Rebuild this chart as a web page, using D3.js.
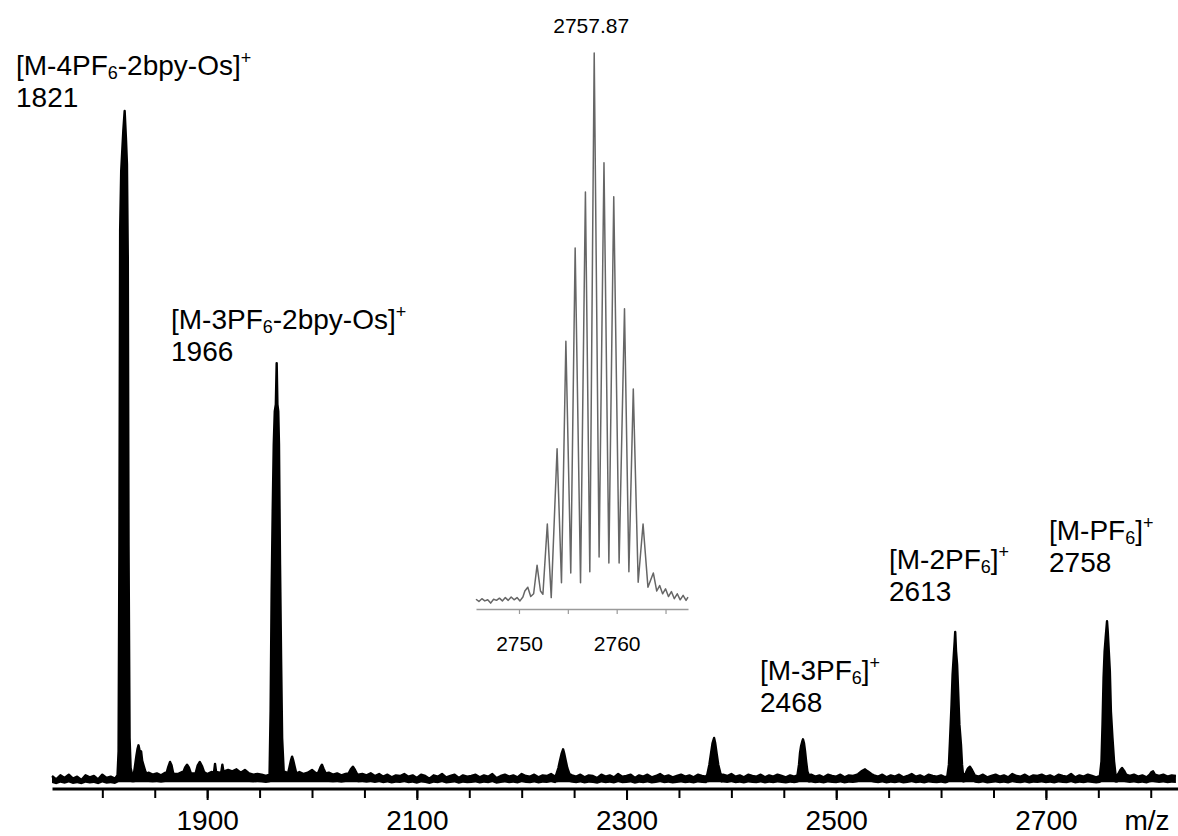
<!DOCTYPE html>
<meta charset="utf-8">

<!-- Load d3.js -->
<script src="https://d3js.org/d3.v7.min.js"></script>

<style>
  body { margin: 0; background: #fff; }
  text { font-family: "Liberation Sans", Arial, sans-serif; fill: #000; }
</style>

<div id="my_dataviz"></div>

<script>

// ---- spectrum data (intensity in % of the 1821 peak) ----

// baseline noise, one row per 100 m/z, one value every 4 m/z, in tenths of %
var noiseStart = 1752
var noiseStep = 4
var noiseRows = [
  [3,-2,4,0,5,-1,2,-3,4,1,3,-2,5,0,2,-1,0,0,0,0,0,0,0,8,5],          // 1752-1848
  [7,4,8,0,6,6,9,0,0,7,0,0,6,9,0,8,10,12,10,13,8,12,7,5,6],          // 1852-1948
  [5,3,0,0,0,0,8,0,0,9,6,8,12,7,0,0,8,5,7,4,6,0,0,5,6],              // 1952-2048
  [4,7,3,6,2,5,1,4,3,6,2,4,0,5,3,-1,4,2,6,1,3,5,0,4,2],              // 2052-2148
  [3,5,1,4,2,6,0,3,5,2,4,1,6,3,2,5,1,4,3,6,2,0,0,0,4],               // 2152-2248
  [2,5,1,4,3,0,5,2,4,1,6,2,3,5,0,4,2,5,1,3,6,2,4,1,3],               // 2252-2348
  [5,2,4,1,5,3,2,0,0,0,5,3,6,2,4,1,5,3,2,5,1,4,2,5,3],               // 2352-2448
  [1,4,2,0,0,0,5,2,4,1,5,3,2,5,1,4,3,5,0,0,0,4,2,5,1],               // 2452-2548
  [4,2,5,1,3,6,2,4,1,5,3,2,4,1,0,0,0,0,0,0,4,2,5,1,3],               // 2552-2648
  [5,2,4,1,6,3,2,5,1,4,3,5,2,4,1,5,3,2,6,1,4,2,5,3,1],               // 2652-2748
  [0,0,0,0,4,0,0,3,5,2,4,1,0,0,3,5,2,4,3]                            // 2752-2824
]

// peak profiles [m/z, intensity %]
var peakProfiles = [
  [[1814.5,0.4],[1815.5,4],[1816.3,35],[1817,82],[1818,91],[1819,94],[1820,97],[1821.3,100],[1822.5,96],[1823.5,92],[1824.3,78],[1825,35],[1826,6],[1827,1.5],[1828.5,0.5]],
  [[1830,0.5],[1831.5,2.2],[1832.5,3.3],[1833.5,4.3],[1834.5,4.9],[1835.3,4.3],[1836,3.6],[1837,4.0],[1838,2.6],[1839.5,1.8],[1841,1.0],[1842.5,0.6]],
  [[1861,0.6],[1863,1.7],[1864.6,2.4],[1866,1.9],[1867.5,0.8]],
  [[1877,0.8],[1879,1.6],[1880.8,2.0],[1882.5,1.6],[1884.5,0.7]],
  [[1889,0.7],[1891,1.9],[1893,2.4],[1895,1.8],[1897,0.9]],
  [[1906.5,0.8],[1907.5,2.1],[1908.5,0.9]],
  [[1913.5,0.9],[1914.5,2.0],[1915.5,1.0]],
  [[1959.5,0.5],[1960.5,10],[1961.5,28],[1962.5,40],[1963.5,50],[1964.5,55],[1965.5,56],[1966.3,62.2],[1967,56],[1967.8,55],[1968.5,50],[1969.5,32],[1970.5,18],[1971.5,6],[1973,1]],
  [[1977,0.6],[1978.5,1.6],[1980,2.7],[1981,3.2],[1982,2.7],[1983.5,1.7],[1985,0.7]],
  [[2006,0.8],[2008,1.6],[2009.5,2.0],[2011,1.4],[2013,0.7]],
  [[2035,0.7],[2037,1.3],[2039,1.7],[2041,1.2],[2043,0.6]],
  [[2233,0.5],[2235,1.5],[2236.5,2.6],[2238,3.6],[2239.5,4.3],[2240.5,3.7],[2242,2.6],[2243.5,1.5],[2245.5,0.6]],
  [[2377,0.5],[2379,2],[2380.5,3.6],[2382,5.2],[2383.5,6.0],[2384.5,5.3],[2386,3.6],[2387.5,2],[2389.5,0.7],[2390.5,0.4]],
  [[2463,0.4],[2464.5,2],[2465.5,3.8],[2466.5,4.8],[2467.5,5.4],[2468.3,5.8],[2469.3,5.2],[2470.3,4],[2471.3,2.5],[2472.5,1],[2474,0.4]],
  [[2521,0.6],[2524,1.0],[2527.5,1.3],[2530,1.0],[2533.5,0.6]],
  [[2606,0.3],[2607.5,2],[2608.5,5.5],[2610,11],[2611,15.5],[2612,18],[2613,20.5],[2613.5,21.9],[2614.3,19],[2615.3,17],[2616.3,13],[2617.5,8],[2619,5],[2620,2],[2621,0.4]],
  [[2623.5,0.7],[2625.5,1.4],[2627.5,1.7],[2629.5,1.2],[2631.5,0.6]],
  [[2751.5,0.3],[2753,2.5],[2754,8],[2755,15],[2756,19],[2757,21],[2758.3,23.5],[2759,22],[2760,19],[2761,16],[2762,10],[2763.5,6],[2765,2.5],[2766.5,0.4]],
  [[2769,0.6],[2771,1.2],[2772.6,1.5],[2774.5,1.1],[2776.5,0.5]],
  [[2799,0.5],[2800.8,0.9],[2802.2,1.0],[2804,0.5]]
]

// annotated ions
var ionMass = [1821, 1966, 2468, 2613, 2758]
var ionHead = ["[M-4PF", "[M-3PF", "[M-3PF", "[M-2PF", "[M-PF"]
var ionSub = ["6", "6", "6", "6", "6"]
var ionTail = ["-2bpy-Os]", "-2bpy-Os]", "]", "]", "]"]

// axis ticks
var minorTicks = d3.range(1800, 2801, 50)
var majorTicks = [1900, 2100, 2300, 2500, 2700]

// inset: isotope pattern of [M-PF6]+
var insetApex = "2757.87"
var insetMz = [2745.6,2745.9,2746.2,2746.5,2746.8,2747.1,2747.4,2747.7,2748.0,2748.3,2748.6,2748.9,2749.2,2749.5,2749.8,2750.1,2750.4,
  2750.6,2750.9,2751.2,2751.5,2751.85,2752.2,2752.45,2752.9,2753.3,2753.9,2754.35,2754.8,2755.3,2755.75,2756.3,2756.8,2757.25,2757.7,
  2758.2,2758.7,2759.2,2759.7,2760.25,2760.8,2761.25,2761.7,2762.2,2762.7,2763.2,2763.75,2764.1,2764.4,2764.7,2765.0,2765.3,2765.6,
  2765.9,2766.2,2766.5,2766.8,2767.1,2767.3]
var insetInt = [0.5,0.1,0.6,0.2,0.4,-0.2,0.5,0.3,0.7,0.2,0.8,0.3,0.9,0.4,0.8,0.2,0.9,
  2.0,2.7,1.0,1.5,6.7,2.0,1.4,14.2,0.8,27.9,3.5,47.5,5.3,64.5,3.5,74.7,5.5,100,
  8.2,80,7.1,73.8,7.1,53.4,5.5,38.8,3.6,14.2,2.7,5.3,2.0,3.0,1.5,2.4,1.0,1.9,
  0.6,1.5,0.4,1.2,0.3,0.9]
var insetTicks = [2750, 2755, 2760, 2765]
var insetTickLabels = [2750, 2760]

// ---- layout ----
var width = 1178, height = 836
var axisY = 788.5
// label anchors: [x, baseline of ion formula]
var labelPos = [[16, 75], [171, 329], [760, 680], [889, 569], [1049, 540]]

var svg = d3.select("#my_dataviz")
  .append("svg")
    .attr("width", width)
    .attr("height", height)

var x = d3.scaleLinear().domain([1752, 2826]).range([52, 1178])
var y = d3.scaleLinear().domain([0, 100]).range([778, 111])

// merge noise and peaks into one trace
var spans = peakProfiles.map(function(p){ return [p[0][0], p[p.length-1][0]] })
var trace = []
noiseRows.forEach(function(row, r) {
  row.forEach(function(v, j) {
    var mz = noiseStart + r * 100 + j * noiseStep
    var inside = spans.some(function(s){ return mz >= s[0] && mz <= s[1] })
    if (!inside) trace.push([mz, v / 10])
  })
})
peakProfiles.forEach(function(p){ p.forEach(function(d){ trace.push(d) }) })
trace.sort(function(a, b){ return a[0] - b[0] })

// filled trace: the noise band keeps a jagged lower edge, peaks are solid
svg.append("path")
  .datum(trace)
  .attr("fill", "#000")
  .attr("d", d3.area()
    .x(function(d){ return x(d[0]) })
    .y0(function(d){ return y(0.35 * Math.min(d[1], 0.6) - 0.85) })
    .y1(function(d){ return y(d[1]) }))

svg.append("path")
  .datum(trace)
  .attr("fill", "none")
  .attr("stroke", "#000")
  .attr("stroke-width", 2.4)
  .attr("stroke-linejoin", "round")
  .attr("d", d3.line()
    .x(function(d){ return x(d[0]) })
    .y(function(d){ return y(d[1]) }))

// main x axis
var gMinor = svg.append("g")
  .attr("transform", "translate(0," + axisY + ")")
  .call(d3.axisBottom(x).tickValues(minorTicks).tickSize(9.5).tickSizeOuter(0).tickFormat(""))
gMinor.select(".domain").attr("stroke-width", 3)
gMinor.selectAll(".tick line").attr("stroke-width", 2)

var gMajor = svg.append("g")
  .attr("transform", "translate(0," + axisY + ")")
  .call(d3.axisBottom(x).tickValues(majorTicks).tickSize(11.5).tickSizeOuter(0).tickFormat(d3.format("d")))
gMajor.select(".domain").remove()
gMajor.selectAll(".tick line").attr("stroke-width", 2)
gMajor.selectAll(".tick text")
  .attr("y", 41)
  .attr("dy", null)
  .style("font-size", "28px")
  .style("font-family", '"Liberation Sans", Arial, sans-serif')

svg.append("text")
  .attr("x", 1147)
  .attr("y", 829.5)
  .attr("text-anchor", "middle")
  .style("font-size", "28px")
  .text("m/z")

// ion labels
ionMass.forEach(function(m, i) {
  var t = svg.append("text")
    .attr("x", labelPos[i][0])
    .attr("y", labelPos[i][1])
    .style("font-size", "28px")
  t.append("tspan").text(ionHead[i])
  t.append("tspan").attr("dy", 4).style("font-size", "18px").text(ionSub[i])
  t.append("tspan").attr("dy", -4).text(ionTail[i])
  t.append("tspan").attr("dy", -11).style("font-size", "18px").text("+")

  svg.append("text")
    .attr("x", labelPos[i][0])
    .attr("y", labelPos[i][1] + 32)
    .style("font-size", "28px")
    .text(m)
})

// inset
var xi = d3.scaleLinear().domain([2745.6, 2767.3]).range([476, 688])
var yi = d3.scaleLinear().domain([0, 100]).range([602, 53])

svg.append("path")
  .datum(d3.zip(insetMz, insetInt))
  .attr("fill", "none")
  .attr("stroke", "#666")
  .attr("stroke-width", 1.5)
  .attr("stroke-linejoin", "round")
  .attr("d", d3.line()
    .x(function(d){ return xi(d[0]) })
    .y(function(d){ return yi(d[1]) }))

var gInset = svg.append("g")
  .attr("transform", "translate(0,609)")
  .call(d3.axisBottom(xi).tickValues(insetTicks).tickSize(5).tickSizeOuter(0)
    .tickFormat(function(d){ return insetTickLabels.indexOf(d) >= 0 ? d : "" }))
gInset.select(".domain").attr("stroke", "#9a9a9a").attr("stroke-width", 1.5)
gInset.selectAll(".tick line").attr("stroke", "#9a9a9a").attr("stroke-width", 1.2)
gInset.selectAll(".tick text")
  .attr("y", 42)
  .attr("dy", null)
  .style("font-size", "21px")
  .style("font-family", '"Liberation Sans", Arial, sans-serif')

svg.append("text")
  .attr("x", xi(2757.7) - 3)
  .attr("y", 33)
  .attr("text-anchor", "middle")
  .style("font-size", "21px")
  .text(insetApex)

</script>
